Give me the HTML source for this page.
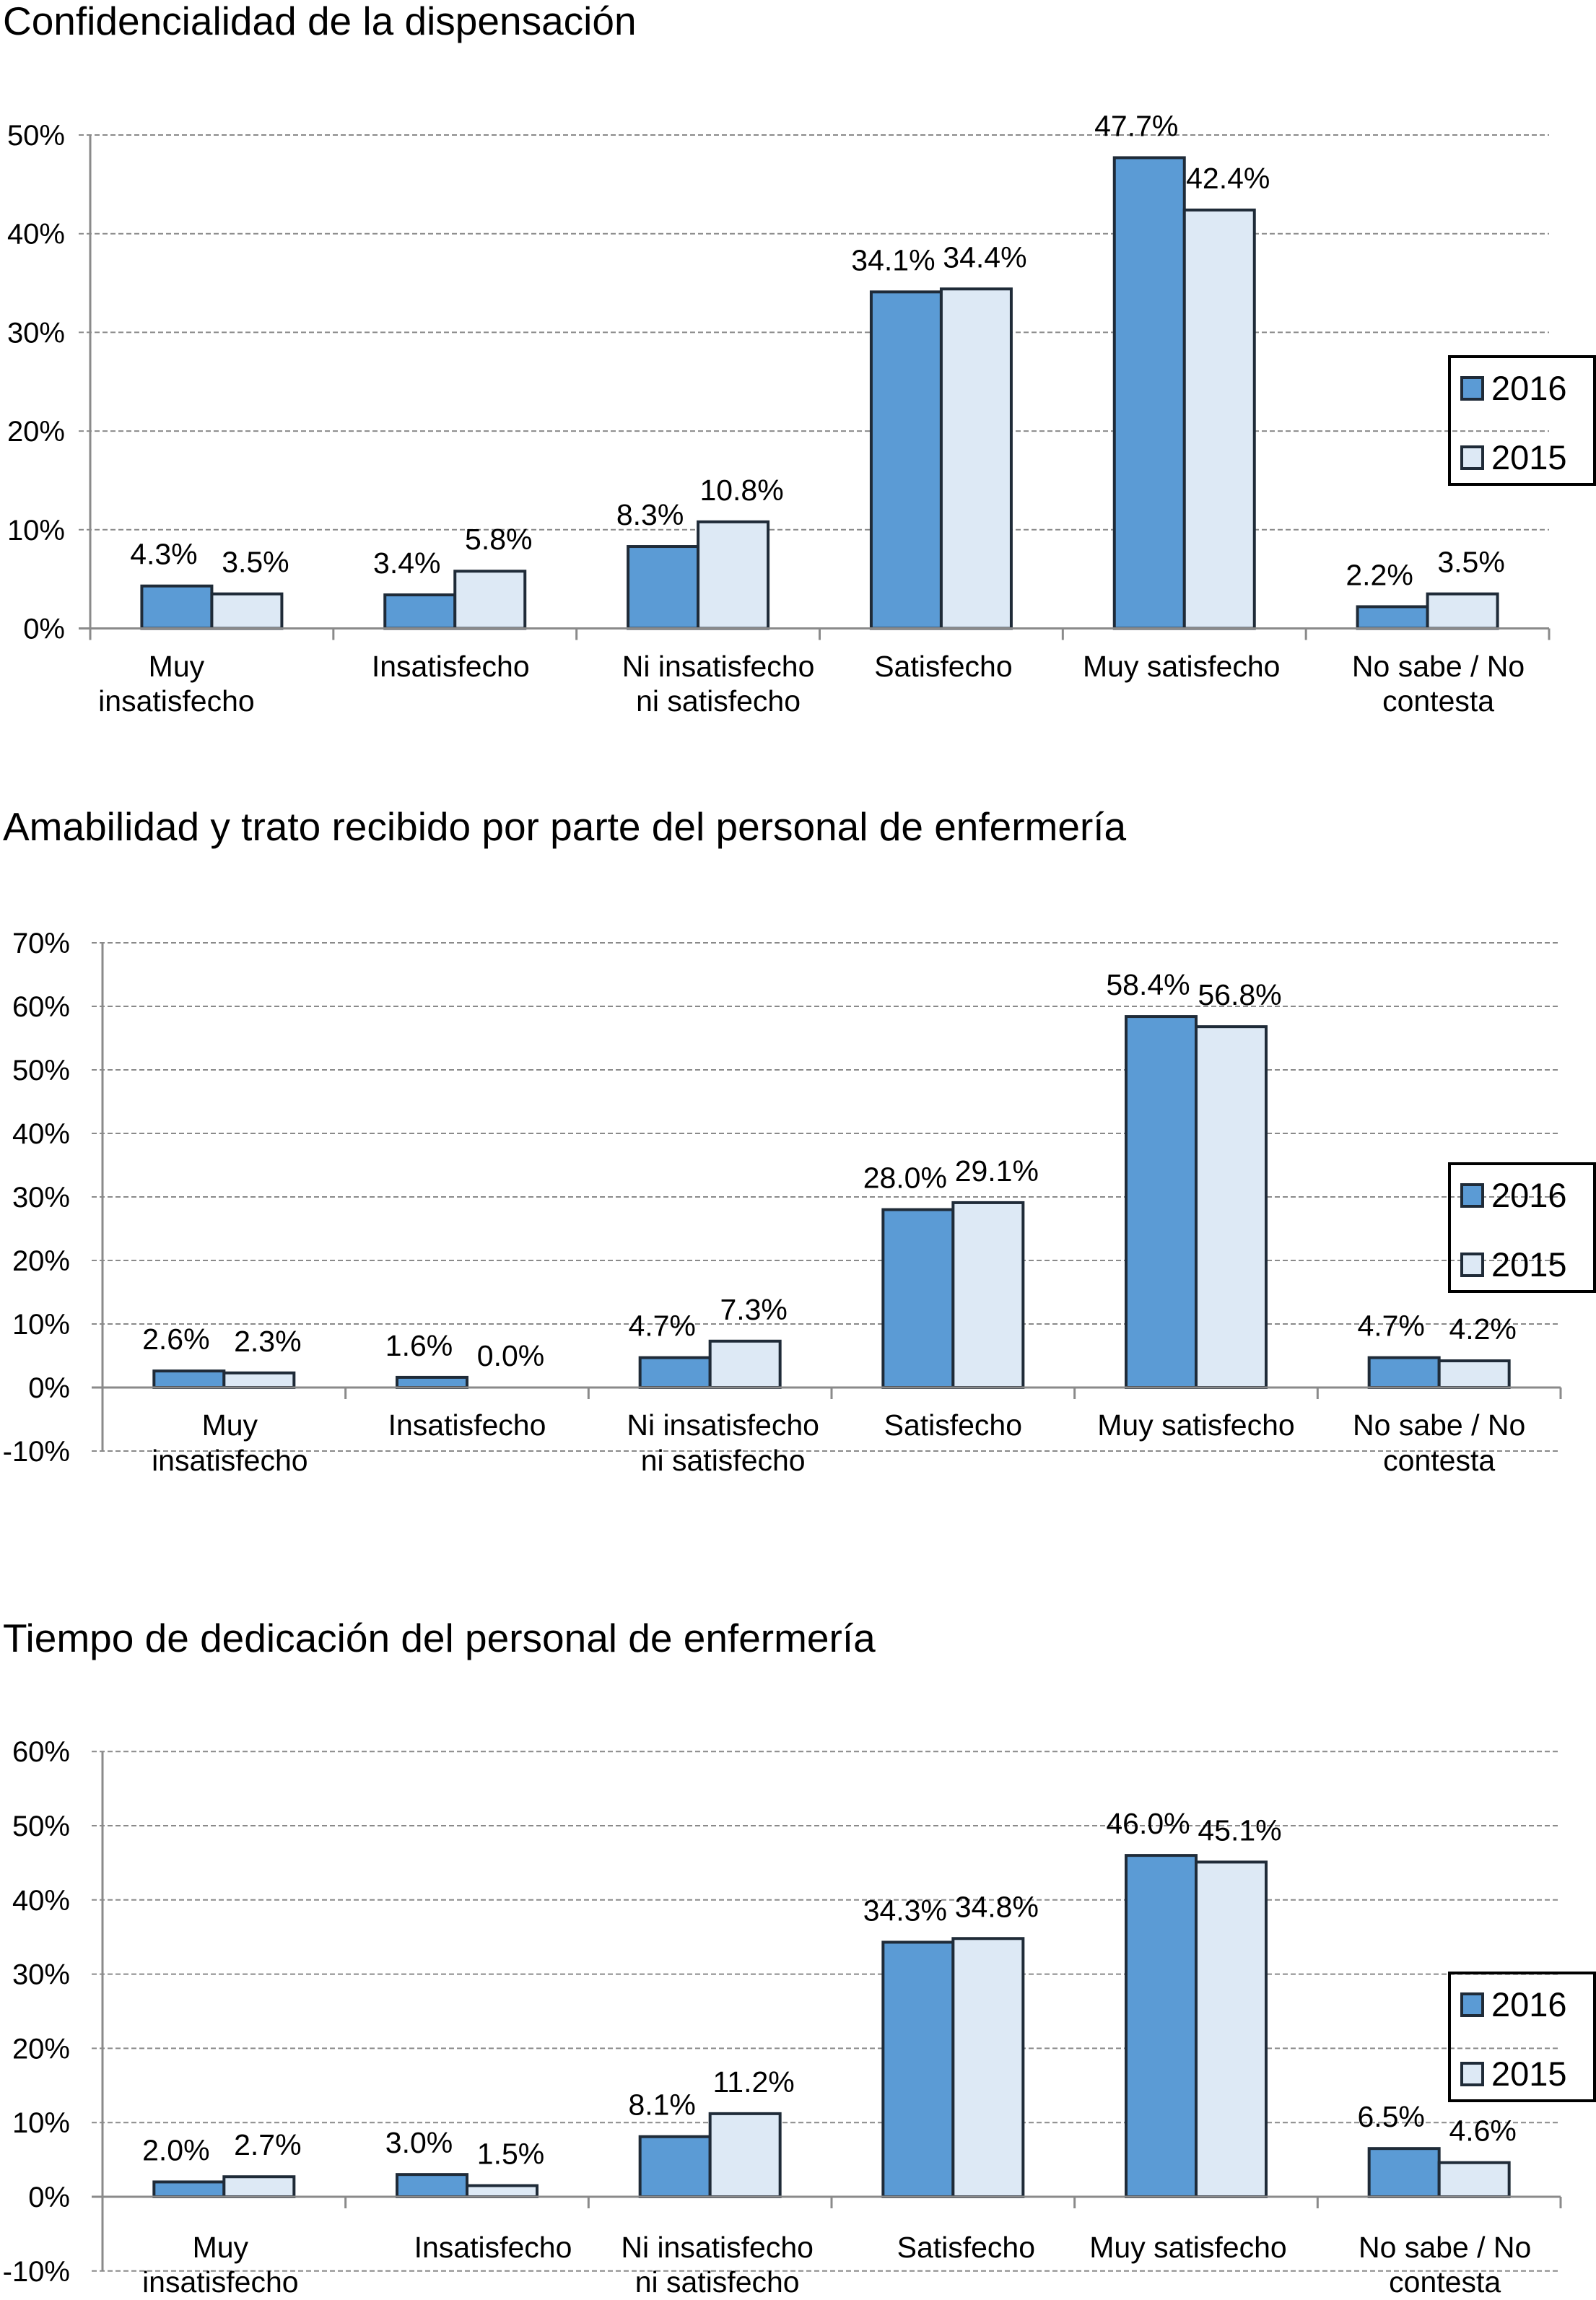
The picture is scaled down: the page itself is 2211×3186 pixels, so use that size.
<!DOCTYPE html>
<html><head><meta charset="utf-8"><style>
html,body{margin:0;padding:0;background:#fff;}
svg{display:block;font-family:"Liberation Sans",Arial,sans-serif;}
</style></head><body>
<svg id="fig" width="2211" height="3186" viewBox="0 0 2211 3186" xmlns="http://www.w3.org/2000/svg"></svg>
<script>
const categories = [["Muy","insatisfecho"],["Insatisfecho"],["Ni insatisfecho","ni satisfecho"],["Satisfecho"],["Muy satisfecho"],["No sabe / No","contesta"]];
const seriesNames = ["2016","2015"];
const titles = ["Confidencialidad de la dispensación","Amabilidad y trato recibido por parte del personal de enfermería","Tiempo de dedicación del personal de enfermería"];
const c1v2016 = [4.3,3.4,8.3,34.1,47.7,2.2];
const c1v2015 = [3.5,5.8,10.8,34.4,42.4,3.5];
const c2v2016 = [2.6,1.6,4.7,28.0,58.4,4.7];
const c2v2015 = [2.3,0.0,7.3,29.1,56.8,4.2];
const c3v2016 = [2.0,3.0,8.1,34.3,46.0,6.5];
const c3v2015 = [2.7,1.5,11.2,34.8,45.1,4.6];
const c1ticks = [0,10,20,30,40,50];
const c2ticks = [-10,0,10,20,30,40,50,60,70];
const c3ticks = [-10,0,10,20,30,40,50,60];

const NS="http://www.w3.org/2000/svg";
const svg=document.getElementById('fig');
function mk(tag,attrs,parent){const e=document.createElementNS(NS,tag);for(const k in attrs)e.setAttribute(k,attrs[k]);(parent||svg).appendChild(e);return e;}

const layouts=[
 {titleY:48,x0:125,x1:2146,y0:870.5,per10:136.7,tickX:90,gridX:109,legY:494,labY1:937,labY2:985,labDx:[-49,-6,28,3,-4,15]},
 {titleY:1164,x0:142,x1:2162,y0:1922,per10:88.0,tickX:97,gridX:127,legY:1612,labY1:1988,labY2:2037,labDx:[8,0,18,0,0,0]},
 {titleY:2288,x0:142,x1:2162,y0:3043,per10:102.8,tickX:97,gridX:127,legY:2733,labY1:3127,labY2:3175,labDx:[-5,36,10,18,-11,8]}
];
const data=[[c1v2016,c1v2015],[c2v2016,c2v2015],[c3v2016,c3v2015]];
const ticks=[c1ticks,c2ticks,c3ticks];
const fills=["#5b9bd5","#dde9f5"];

layouts.forEach((L,ci)=>{
  const g=mk('g',{});
  
  
  const yScale=v=>L.y0-v/10*L.per10;
  const cw=(L.x1-L.x0)/categories.length;
  const xCat=i=>L.x0+i*cw;
  const t=mk('text',{x:4,y:L.titleY,'font-size':55,fill:'#000'},g);
  t.textContent=titles[ci];
  
  
  ticks[ci].forEach(v=>{
    const y=yScale(v);
    if(v!==0){
      const ln=mk('line',{x1:L.gridX,x2:L.x1,y1:y,y2:y,stroke:'#8a8a8a','stroke-width':2,'stroke-dasharray':'7,4'},g);
      
      
    }
    const tl=mk('text',{x:L.tickX,y:y+14,'font-size':40,'text-anchor':'end',fill:'#000'},g);
    tl.textContent=v+'%';
    
    
  });
  const ymin=yScale(ticks[ci][0]), ymax=yScale(ticks[ci][ticks[ci].length-1]);
  const ax=mk('line',{x1:L.x0,x2:L.x0,y1:ymax,y2:ymin,stroke:'#8a8a8a','stroke-width':3},g);
  
  
  const bw=97, gap=(cw-2*bw)/2;
  data[ci].forEach((vals,si)=>{
    vals.forEach((v,i)=>{
      const x=xCat(i)+gap+si*bw;
      const yt=yScale(v);
      const r=mk('rect',{x:x,y:yt,width:bw,height:Math.max(0,L.y0-yt),fill:fills[si],stroke:'#1f2b38','stroke-width':4},g);
      
      
      const lb=mk('text',{x:x+bw/2-(si===0?18:-12),y:yt-30,'font-size':41,'text-anchor':'middle',fill:'#000'},g);
      lb.textContent=v.toFixed(1)+'%';
      
      
    });
  });
  const xa=mk('line',{x1:L.gridX,x2:L.x1,y1:L.y0,y2:L.y0,stroke:'#8a8a8a','stroke-width':3},g);
  
  
  for(let i=0;i<=categories.length;i++){
    const tk=mk('line',{x1:xCat(i),x2:xCat(i),y1:L.y0,y2:L.y0+16,stroke:'#8a8a8a','stroke-width':3},g);
    
    
  }
  categories.forEach((lines,i)=>{
    const cx=xCat(i)+cw/2+L.labDx[i];
    lines.forEach((s,k)=>{
      const tx=mk('text',{x:cx,y:k===0?L.labY1:L.labY2,'font-size':41,'text-anchor':'middle',fill:'#000'},g);
      tx.textContent=s;
      
      
    });
  });
  const lg=mk('g',{},g);
  
  
  mk('rect',{x:2008,y:L.legY,width:201,height:177,fill:'none',stroke:'#000','stroke-width':4},lg);
  seriesNames.forEach((n,si)=>{
    const yy=L.legY+29+si*96;
    const sw=mk('rect',{x:2025,y:yy,width:29,height:30,fill:fills[si],stroke:'#1f2b38','stroke-width':4},lg);
    
    
    const lt=mk('text',{x:2066,y:yy+31,'font-size':47,fill:'#000'},lg);
    lt.textContent=n;
    
    
  });
});
</script>
</body></html>
